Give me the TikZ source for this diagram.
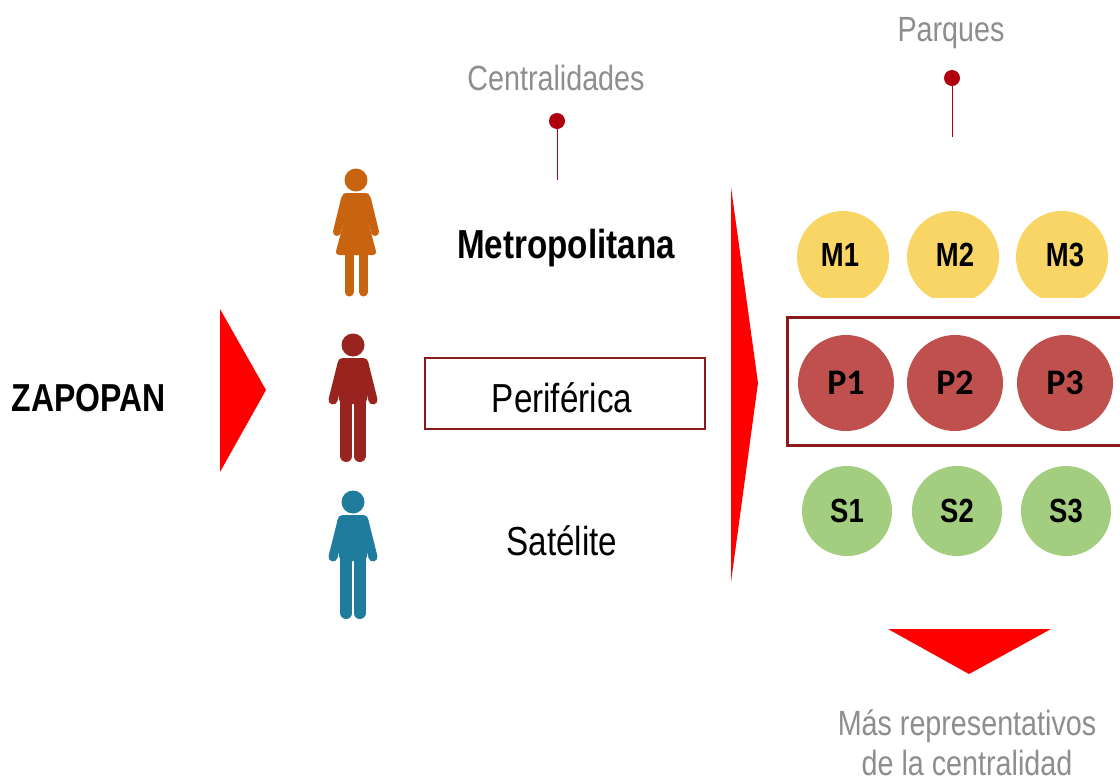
\documentclass[tikz,border=0pt]{standalone}
\usepackage{fontspec}
\setmainfont[FakeStretch=0.82]{Liberation Sans}
\newfontfamily\parkfont{Carlito}
\usetikzlibrary{positioning}
\definecolor{darkred}{HTML}{8B1A1A}
\definecolor{pinred}{HTML}{B00010}
\definecolor{txtgray}{HTML}{8E8E8E}
\definecolor{womancol}{HTML}{C8640F}
\definecolor{mancol}{HTML}{98231F}
\definecolor{bluecol}{HTML}{1F7C9C}
\definecolor{mcol}{HTML}{F9D565}
\definecolor{pcol}{HTML}{C0504D}
\definecolor{scol}{HTML}{A3CD7F}

\begin{document}
\begin{tikzpicture}[
    x=1pt, y=-1pt,
    bigtxt/.style = {font=\fontsize{40.5}{44}\selectfont, text=black, anchor=base, inner sep=0pt},
    boldtxt/.style = {font=\bfseries\fontsize{39}{44}\selectfont, text=black, anchor=base, inner sep=0pt},
    graytxt/.style = {font=\fontsize{35}{39.5}\selectfont, text=txtgray, anchor=base, inner sep=0pt},
    parkdot/.style = {circle, inner sep=0pt, minimum size=#1},
    parklbl/.style = {font=\bfseries\fontsize{33.5}{34}\selectfont, text=black, text height=22pt, text depth=0pt},
    pindot/.style = {circle, fill=pinred, inner sep=0pt, minimum size=16pt},
    pinline/.style = {draw=pinred, line width=1pt},
    redarrow/.style = {fill=red},
    man/.pic = {
      \fill[#1] (0,0) circle[radius=11.5];
      \fill[#1, rounded corners=5pt] (-15.5,13) -- (15.5,13) -- (14,59) -- (-14,59) -- cycle;
      \draw[#1, line width=9pt, line cap=round] (-11,19) -- (-20,55);
      \draw[#1, line width=9pt, line cap=round] (11,19) -- (20,55);
      \draw[#1, line width=12pt, line cap=round] (-6.6,58) -- (-6.6,111);
      \draw[#1, line width=12pt, line cap=round] (6.6,58) -- (6.6,111);
    },
    woman/.pic = {
      \fill[#1] (0,0) circle[radius=11.5];
      \fill[#1, rounded corners=4pt] (-14,13) -- (14,13) -- (13,45) -- (21,75) -- (-21,75) -- (-13,45) -- cycle;
      \draw[#1, line width=8pt, line cap=round] (-11,19) -- (-19,52);
      \draw[#1, line width=8pt, line cap=round] (11,19) -- (19,52);
      \draw[#1, line width=9pt, line cap=round] (-7,70) -- (-7,112);
      \draw[#1, line width=9pt, line cap=round] (7.5,70) -- (7.5,112);
    }
  ]
  \useasboundingbox (0,0) rectangle (1120,780);
  \fill[white] (0,0) rectangle (1120,780);

  \node[boldtxt] (zapopan) at (88.5,411) {ZAPOPAN};
  \fill[redarrow] (220,309) -- (266,390) -- (220,472) -- cycle;

  % personas
  \pic at (356,180) {woman=womancol};
  \pic at (353,345) {man=mancol};
  \pic at (353,502) {man=bluecol};

  % centralidades
  \node[graytxt] (centralidades) at (556,90) {Centralidades};
  \node[pindot] (pincentral) at (557,121) {};
  \coordinate (endcentral) at (557,180);
  \draw[pinline] (pincentral) -- (endcentral);

  \node[boldtxt, font=\bfseries\fontsize{40.5}{44}\selectfont] (metro) at (566,258) {Metropolitana};
  \node[draw=darkred, line width=2pt, minimum width=280pt, minimum height=71pt,
    inner sep=0pt] (periferica) at (565,393.5) {};
  \node[bigtxt] (peritxt) at (562,412) {Periférica};
  \node[bigtxt] (satelite) at (562,555) {Satélite};

  \fill[redarrow] (731,187) -- (758,383) -- (731,582) -- cycle;

  % parques
  \node[graytxt] (parques) at (951,41) {Parques};
  \node[pindot] (pinparques) at (952,78) {};
  \coordinate (endparques) at (952,137);
  \draw[pinline] (pinparques) -- (endparques);

  \begin{scope}
    \clip (780,190) rectangle (1120,297);
    \foreach \n/\x in {1/843,2/953,3/1062}
      \node[parkdot=92pt, fill=mcol] (m\n) at (\x,257) {};
  \end{scope}
  \foreach \n/\x in {1/840,2/955,3/1065}
    \node[parklbl] (mt\n) at (\x,255) {M\n};

  \draw[darkred, line width=3pt] (1125,317) -- (787,317) -- (787,445) -- (1125,445);
  \foreach \n/\x in {1/846,2/955,3/1065}
    \node[parkdot=96pt, fill=pcol, parklbl, font=\parkfont\bfseries\fontsize{36}{36}\selectfont] (p\n) at (\x,383) {P\n};
  \foreach \n/\x in {1/847,2/957,3/1066}
    \node[parkdot=90pt, fill=scol, parklbl] (s\n) at (\x,511) {S\n};

  \fill[redarrow] (888,629) -- (1051,629) -- (969,674) -- cycle;
  \node[graytxt] (masrep) at (967,735) {Más representativos};
  \node[graytxt] (delacent) at (967,775) {de la centralidad};
\end{tikzpicture}
\end{document}
